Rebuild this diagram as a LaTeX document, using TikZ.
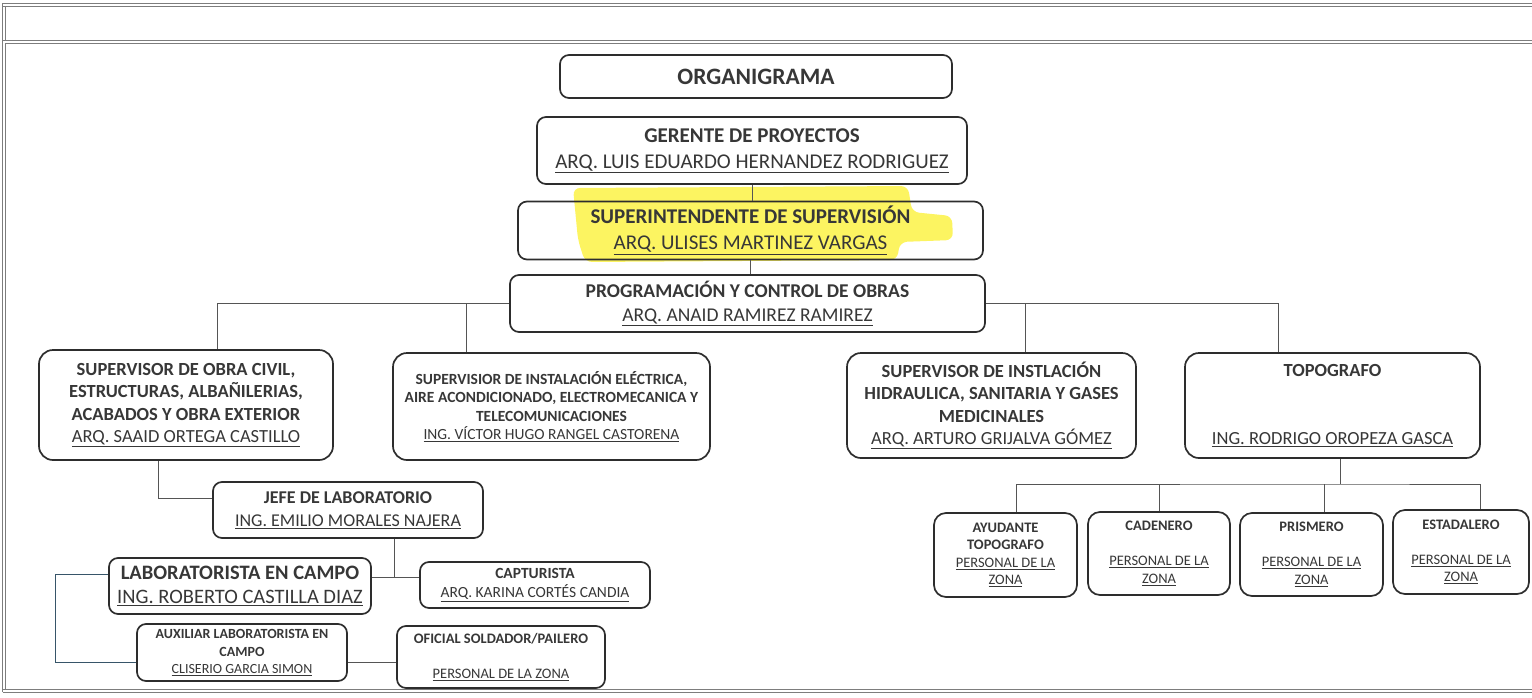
\documentclass[tikz,border=0pt]{standalone}
\usepackage{fontspec}
\setmainfont{Carlito}
\definecolor{boxc}{RGB}{45,45,45}
\definecolor{linec}{RGB}{85,85,85}
\definecolor{txt}{RGB}{55,55,55}
\definecolor{framec}{RGB}{125,125,125}
\definecolor{hl}{RGB}{252,243,80}
\definecolor{bluec}{RGB}{55,85,105}
\newcommand\ulx[1]{\underline{#1}}
\begin{document}
\begin{tikzpicture}[x=1pt,y=-1pt]
\tikzset{
  box/.style={draw=boxc, line width=1.7pt, rounded corners=9pt, inner sep=0pt, align=center, text=txt},
  conn/.style={draw=linec, line width=1pt},
  frameline/.style={draw=framec, line width=0.9pt},
  fbig/.style={font=\fontsize{21}{26}\selectfont},
  fmid/.style={font=\fontsize{18.5}{22.5}\selectfont},
  fsmall/.style={font=\fontsize{14.5}{17.5}\selectfont},
  felec/.style={font=\fontsize{15.5}{18.5}\selectfont},
}
\useasboundingbox (0,0) rectangle (1532,697);
% frame (double lines)
\draw[frameline] (2.5,3) -- (1532,3);
\draw[frameline] (2.5,6) -- (1532,6);
\draw[frameline] (2.5,40) -- (1532,40);
\draw[frameline] (5.5,43) -- (1532,43);
\draw[frameline] (2.5,689) -- (1532,689);
\draw[frameline] (2.5,692) -- (1532,692);
\draw[frameline] (2.5,3) -- (2.5,692);
\draw[frameline] (5.5,6) -- (5.5,40);
\draw[frameline] (5.5,43) -- (5.5,689);
% highlight
\fill[hl, opacity=0.9, rounded corners=7pt] (573,188) -- (908,186) -- (912,212) -- (952,216) -- (953,240) -- (900,242) -- (897,260) -- (585,262) -- (578,240) -- cycle;
% boxes
\node[box, font=\fontsize{23.5}{28}\selectfont, minimum width=392pt, minimum height=43pt] (org) at (756,76.5) {\textbf{ORGANIGRAMA}};
\node[box, fbig, minimum width=430pt, minimum height=67pt] (ger) at (752,150.5) {\textbf{GERENTE DE PROYECTOS}\\\ulx{ARQ. LUIS EDUARDO HERNANDEZ RODRIGUEZ}};
\node[box, fbig, minimum width=465pt, minimum height=58pt] (sup) at (750.5,230.5) {\textbf{SUPERINTENDENTE DE SUPERVISIÓN}\\\ulx{ARQ. ULISES MARTINEZ VARGAS}};
\node[box, minimum width=475pt, minimum height=57pt, font=\fontsize{19.5}{24}\selectfont] (prog) at (747.5,303.5) {\textbf{PROGRAMACIÓN Y CONTROL DE OBRAS}\\\ulx{ARQ. ANAID RAMIREZ RAMIREZ}};
\node[box, fmid, rounded corners=14pt, minimum width=294pt, minimum height=110pt] (civil) at (186,405) {\textbf{SUPERVISOR DE OBRA CIVIL,}\\\textbf{ESTRUCTURAS, ALBAÑILERIAS,}\\\textbf{ACABADOS Y OBRA EXTERIOR}\\\ulx{ARQ. SAAID ORTEGA CASTILLO}};
\node[box, felec, rounded corners=14pt, minimum width=317pt, minimum height=107pt] (elec) at (551.5,406.5) {\textbf{SUPERVISIOR DE INSTALACIÓN ELÉCTRICA,}\\\textbf{AIRE ACONDICIONADO, ELECTROMECANICA Y}\\\textbf{TELECOMUNICACIONES}\\\ulx{ING. VÍCTOR HUGO RANGEL CASTORENA}};
\node[box, fmid, rounded corners=14pt, minimum width=289pt, minimum height=105pt] (hidr) at (991.5,405.5) {\textbf{SUPERVISOR DE INSTLACIÓN}\\\textbf{HIDRAULICA, SANITARIA Y GASES}\\\textbf{MEDICINALES}\\\ulx{ARQ. ARTURO GRIJALVA GÓMEZ}};
\node[box, fmid, rounded corners=14pt, minimum width=295pt, minimum height=105pt] (topo) at (1332.5,405.5) {\textbf{TOPOGRAFO}\\[45pt]\ulx{ING. RODRIGO OROPEZA GASCA}};
\node[box, font=\fontsize{18}{23}\selectfont, minimum width=270pt, minimum height=56pt] (jefe) at (348,510) {\textbf{JEFE DE LABORATORIO}\\\ulx{ING. EMILIO MORALES NAJERA}};
\node[box, font=\fontsize{20.5}{24}\selectfont, minimum width=262pt, minimum height=56pt] (lab) at (240,586) {\textbf{LABORATORISTA EN CAMPO}\\\ulx{ING. ROBERTO CASTILLA DIAZ}};
\node[box, font=\fontsize{15.5}{19}\selectfont, minimum width=230pt, minimum height=46pt] (capt) at (535,585) {\textbf{CAPTURISTA}\\\ulx{ARQ. KARINA CORTÉS CANDIA}};
\node[box, font=\fontsize{14}{17.5}\selectfont, minimum width=210pt, minimum height=57pt] (aux) at (242,652.5) {\textbf{AUXILIAR LABORATORISTA EN}\\\textbf{CAMPO}\\\ulx{CLISERIO GARCIA SIMON}};
\node[box, font=\fontsize{14.5}{17.5}\selectfont, minimum width=208pt, minimum height=62pt] (ofic) at (501,657) {\textbf{OFICIAL SOLDADOR/PAILERO}\\[17.5pt]\ulx{PERSONAL DE LA ZONA}};
\node[box, fsmall, rounded corners=12pt, minimum width=143pt, minimum height=84pt] (ayud) at (1005.5,555) {\textbf{AYUDANTE}\\\textbf{TOPOGRAFO}\\\ulx{PERSONAL DE LA}\\\ulx{ZONA}};
\node[box, fsmall, rounded corners=12pt, minimum width=142pt, minimum height=83pt] (cade) at (1159,553.5) {\textbf{CADENERO}\\[17.5pt]\ulx{PERSONAL DE LA}\\\ulx{ZONA}};
\node[box, fsmall, rounded corners=12pt, minimum width=143pt, minimum height=83pt] (pris) at (1311.5,554.5) {\textbf{PRISMERO}\\[17.5pt]\ulx{PERSONAL DE LA}\\\ulx{ZONA}};
\node[box, fsmall, rounded corners=12pt, minimum width=136pt, minimum height=84pt] (esta) at (1461,552) {\textbf{ESTADALERO}\\[17.5pt]\ulx{PERSONAL DE LA}\\\ulx{ZONA}};
% connectors
\draw[conn] (ger.south) -- (ger.south |- sup.north);
\draw[conn] (sup.south) -- (sup.south |- prog.north);
\draw[conn] (prog.west) -| (217,0 |- civil.north);
\draw[conn] (466,0 |- prog.west) -- (466,0 |- elec.north);
\draw[conn] (prog.east) -| (1278,0 |- topo.north);
\draw[conn] (1025,0 |- prog.east) -- (1025,0 |- hidr.north);
\draw[conn] (158,0 |- civil.south) |- (jefe.west |- 0,498);
\coordinate (jl) at (394,577);
\draw[conn] (394,0 |- jefe.south) -- (jl);
\draw[conn] (lab.east |- jl) -- (capt.west |- jl);
\coordinate (la) at (55,574);
\coordinate (lb) at (55,662);
\draw[conn, draw=bluec] (lab.west |- la) -- (la) -- (lb) -- (aux.west |- lb);
\draw[conn] (aux.east |- lb) -- (ofic.west |- lb);
\coordinate (tb) at (1340,484);
\draw[conn] (1340,0 |- topo.south) -- (tb);
\draw[conn] (1016,0 |- ayud.north) |- (tb) -| (1480,0 |- esta.north);
\draw[conn] (1159,0 |- tb) -- (1159,0 |- cade.north);
\draw[conn] (1324,0 |- tb) -- (1324,0 |- pris.north);
\end{tikzpicture}
\end{document}
